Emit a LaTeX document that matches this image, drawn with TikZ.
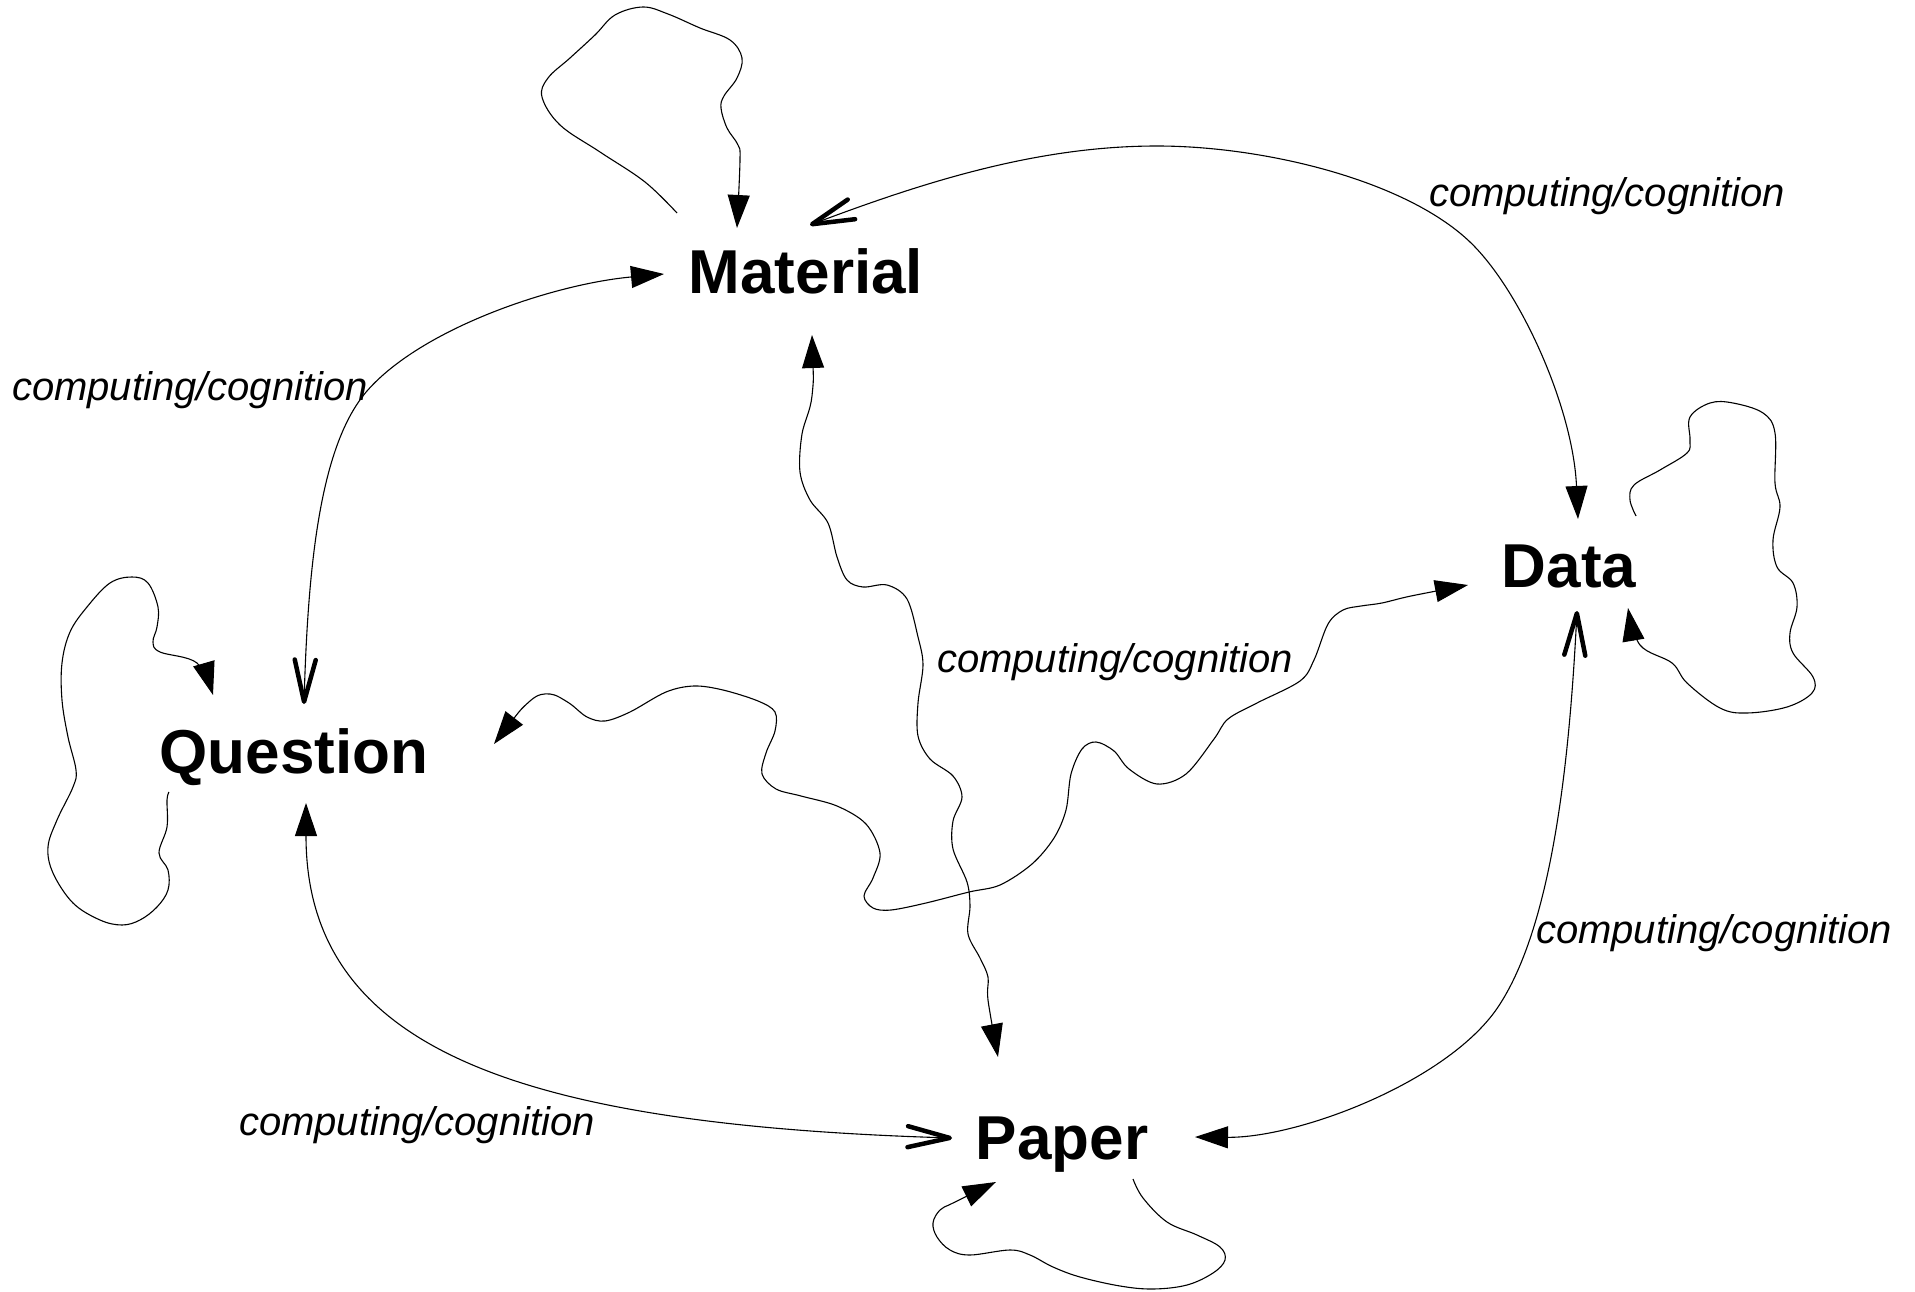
\documentclass[tikz,border=0pt]{standalone}
\usepackage{fontspec}
\setmainfont{Liberation Sans}
\usetikzlibrary{arrows.meta}
\tikzset{
  FH/.tip={Triangle[length=33pt,width=22pt]},
  OV/.tip={Straight Barb[length=42pt,width=21pt,line width=4.5pt,round]},
  concept/.style={font=\fontsize{62}{70}\bfseries\selectfont, anchor=base, inner sep=0pt},
  lbl/.style={font=\fontsize{40}{48}\itshape\selectfont, anchor=base, inner sep=0pt},
  conn/.style={line width=1.1pt},
}
\begin{document}
\begin{tikzpicture}[x=1pt,y=-1pt]
\useasboundingbox (0,0) rectangle (1915,1292);
% concepts
\node[concept] (mat) at (806,294) {Material};
\node[concept] (dat) at (1569,587) {Data};
\node[concept] (que) at (294,773) {Question};
\node[concept] (pap) at (1062,1159) {Paper};
% labels
\node[lbl] (l1) at (1607,207) {computing/cognition};
\node[lbl] (l2) at (190,400) {computing/cognition};
\node[lbl] (l3) at (1115,672) {computing/cognition};
\node[lbl] (l4) at (417,1135) {computing/cognition};
\node[lbl] (l5) at (1714,943) {computing/cognition};
% connector end points
\coordinate (matW) at (664,274);
\coordinate (matN) at (737,228);
\coordinate (matNE) at (810,225);
\coordinate (matS) at (812,335);
\coordinate (matL) at (677,213);
\coordinate (datN) at (1578,519);
\coordinate (datS) at (1577,611);
\coordinate (datW) at (1468,585);
\coordinate (datSE) at (1628,608);
\coordinate (datL) at (1636,516);
\coordinate (queN) at (304,704);
\coordinate (queS) at (306,803);
\coordinate (queE) at (494,744);
\coordinate (queNE) at (213,695);
\coordinate (queL) at (169,792);
\coordinate (papN) at (998,1057);
\coordinate (papW) at (952,1138);
\coordinate (papE) at (1195,1137);
\coordinate (papSW) at (996,1182);
\coordinate (papL) at (1133,1179);
% Question <-> Material
\draw[conn,{OV}-{FH}] (queN) .. controls (308,560) and (321,444) .. (367,391)
  .. controls (422,328) and (554,284) .. (matW);
% Material <-> Data
\draw[conn,{OV}-{FH}] (matNE) .. controls (924,182) and (1037,146) .. (1157,146)
  .. controls (1267,146) and (1413,182) .. (1475,247)
  .. controls (1523,297) and (1573,409) .. (datN);
% Data <-> Paper
\draw[conn,{OV}-{FH}] (datS) .. controls (1570,751) and (1554,920) .. (1500,1004)
  .. controls (1452,1080) and (1300,1138) .. (papE);
% Question <-> Paper
\draw[conn,{FH}-{OV}] (queS) .. controls (306,1050) and (520,1125) .. (papW);
% Material <-> Paper (wavy)
\draw[conn,{FH}-{FH}] plot[smooth,tension=0.55] coordinates {(matS) (812,396) (802,434) (800,472) (810,500) (828,523) (837,557) (847,580) (863,587) (887,585) (907,599) (918,637) (923,665) (918,703) (918,736) (930,759) (953,776) (962,797) (953,821) (953,849) (967,882) (970,906) (968,934) (980,958) (988,977) (988,1000) (papN)};
% Question <-> Data (wavy)
\draw[conn,{FH}-{FH}] plot[smooth,tension=0.55] coordinates {(queE) (530,701) (550,694) (569,703) (587,717) (605,721) (630,712) (666,692) (694,686) (723,690) (758,701) (775,712) (775,731) (766,753) (762,774) (776,789) (801,796) (837,806) (866,824) (880,853) (873,878) (864,896) (873,908) (891,910) (926,903) (969,892) (1000,885) (1032,864) (1054,838) (1066,810) (1071,774) (1082,749) (1096,742) (1114,751) (1129,769) (1157,784) (1186,774) (1214,739) (1228,719) (1257,703) (1300,681) (1314,660) (1328,624) (1343,610) (1361,606) (1382,603) (1411,596) (datW)};
% self loops
\draw[conn,-{FH}] plot[smooth,tension=0.6] coordinates {(matL) (645,182) (600,152) (560,125) (542,97) (548,78) (570,58) (595,35) (615,15) (643,7) (668,14) (700,28) (730,40) (742,58) (737,78) (724,96) (721,108) (727,128) (738,145) (740,160) (matN)};
\draw[conn,-{FH}] plot[smooth,tension=0.6] coordinates {(datL) (1630,500) (1634,485) (1660,470) (1687,453) (1690,440) (1690,417) (1710,403) (1733,403) (1763,413) (1775,433) (1775,483) (1780,507) (1773,540) (1777,567) (1793,583) (1797,607) (1790,633) (1793,653) (1813,677) (1812,693) (1787,707) (1747,713) (1720,708) (1687,683) (1672,663) (1640,645) (datSE)};
\draw[conn,-{FH}] plot[smooth,tension=0.6] coordinates {(queL) (167,800) (167,827) (159,853) (168,870) (168,890) (157,907) (140,920) (122,925) (100,920) (73,903) (53,873) (48,847) (57,820) (73,787) (76,770) (68,737) (62,700) (62,663) (70,632) (87,607) (110,583) (132,577) (148,583) (158,607) (157,627) (153,642) (160,652) (197,663) (queNE)};
\draw[conn,-{FH}] plot[smooth,tension=0.6] coordinates {(papL) (1143,1198) (1167,1222) (1197,1235) (1220,1247) (1225,1260) (1213,1273) (1187,1285) (1153,1289) (1120,1286) (1080,1277) (1053,1267) (1030,1255) (1010,1250) (970,1255) (950,1250) (937,1237) (933,1223) (940,1210) (953,1203) (papSW)};
\end{tikzpicture}
\end{document}
